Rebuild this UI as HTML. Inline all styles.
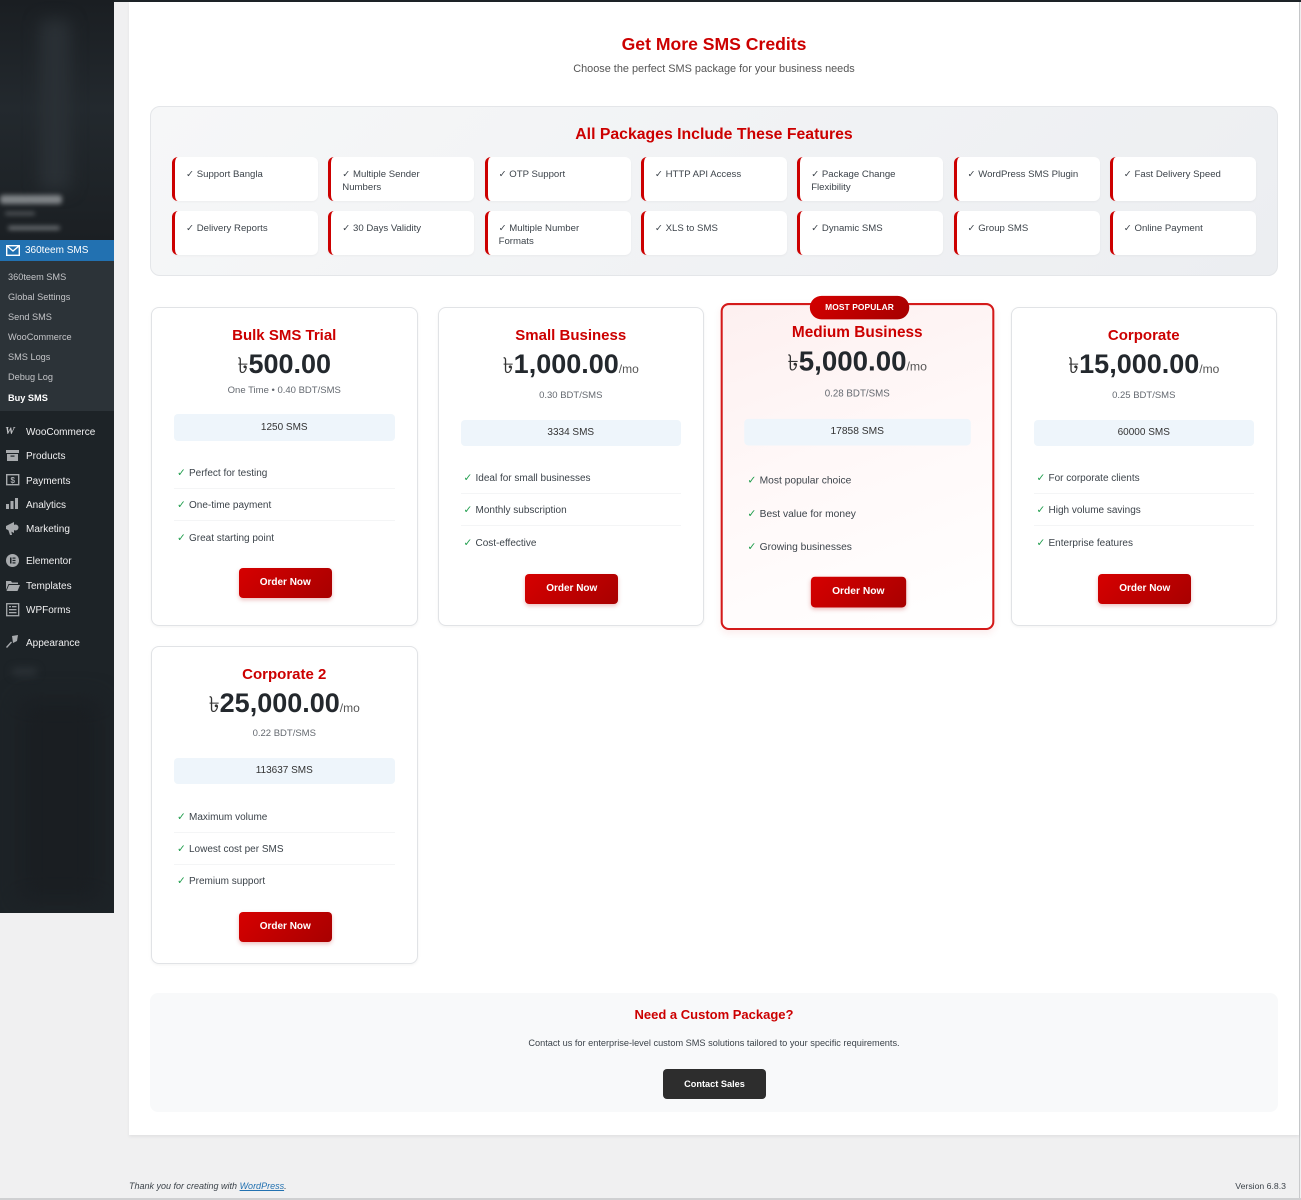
<!DOCTYPE html>
<html><head><meta charset="utf-8">
<style>
*{margin:0;padding:0;box-sizing:border-box}
html,body{width:1301px;height:1200px;overflow:hidden}
body{position:relative;background:#f0f0f1;font-family:"Liberation Sans",Arial,sans-serif;color:#333}
.a{position:absolute}
#side{left:0;top:0;width:114px;height:913px;background:#1d2327;overflow:hidden}
#sideimg{left:0;top:0;width:114px;height:240px;background:linear-gradient(180deg,#1a1e22 0%,#23292e 45%,#1e2327 80%,#1b1f23 100%)}
.blob{position:absolute;background:#cfd3d6;filter:blur(2.5px);border-radius:3px}
#active{left:0;top:240px;width:114px;height:21px;background:#2271b1;color:#fff;font-size:10px;line-height:21px;padding-left:25px}
#arrow{left:108px;top:244px;width:0;height:0;border-top:6px solid transparent;border-bottom:6px solid transparent;border-right:6px solid #f0f0f1}
#sub{left:0;top:261px;width:114px;height:150px;background:#2c3338}
.si{position:absolute;left:8px;font-size:9.2px;line-height:12px;color:#c3c4c7;white-space:nowrap}
.mi{position:absolute;left:26px;font-size:10px;line-height:13px;color:#f0f0f1;white-space:nowrap}
#content{left:129px;top:2px;width:1170px;height:1133px;background:#fff;box-shadow:0 2px 3px rgba(0,0,0,0.06)}
#rline{left:1299px;top:2px;width:1px;height:1198px;background:#c9cacc}
.center{left:129px;width:1170px;text-align:center;white-space:nowrap}
#fbox{left:150px;top:106px;width:1128px;height:170px;border-radius:10px;background:linear-gradient(135deg,#f6f7f8,#eceef1);border:1px solid #e4e6e9}
.fi{position:absolute;width:146px;height:44px;background:#fff;border-left:3px solid #cc0000;border-radius:6px;box-shadow:0 1px 2px rgba(0,0,0,0.04);font-size:9.6px;line-height:13px;color:#3c434a;padding:10.5px 0 0 11px;white-space:nowrap}
.card{position:absolute;width:266.5px;height:319px;background:#fff;border:1px solid #e1e3e6;border-radius:8px;box-shadow:0 1px 3px rgba(0,0,0,0.05)}
.card>div{position:absolute}
.t{left:0;right:0;top:18px;text-align:center;font-weight:bold;font-size:15px;line-height:20px;color:#cc0000;white-space:nowrap}
.p{left:0;right:0;top:40px;text-align:center;font-weight:bold;font-size:27px;line-height:32px;color:#23282d;white-space:nowrap}
.cur{font-weight:normal;font-size:22px;font-family:"DejaVu Sans","Liberation Sans",sans-serif;color:#333}
.mo{font-weight:normal;font-size:12px;color:#555}
.r{left:0;right:0;top:80.5px;text-align:center;font-size:9.5px;line-height:13px;color:#646970;white-space:nowrap}
.box{left:22px;right:22px;top:112px;height:26px;line-height:26px;text-align:center;background:#eef5fb;border-radius:4px;font-size:10px;color:#333}
.li{left:25px;font-size:10px;line-height:14px;color:#3c434a;white-space:nowrap}
.li i{font-style:normal;color:#1f9d4c;display:inline-block;width:12px;font-family:"DejaVu Sans",sans-serif;font-size:10.5px;font-weight:bold}
.sep{left:22px;right:22px;height:1px;background:#f4f5f6}
.btn{width:93px;height:30px;left:86.75px;top:266px;border-radius:4px;background:linear-gradient(135deg,#d60000,#a80000);color:#fff;font-weight:bold;font-size:10px;line-height:30px;text-align:center;box-shadow:0 2px 4px rgba(180,0,0,0.25)}
#feat{transform:scale(1.025);transform-origin:50% 50%;border:2px solid #d41a1a;background:linear-gradient(160deg,#fdf0f0 0%,#fff8f8 45%,#ffffff 100%);box-shadow:0 3px 8px rgba(200,0,0,0.08)}
#badge{left:85px;top:-9px;width:97px;height:23px;border-radius:12px;background:linear-gradient(135deg,#d40000,#a50000);color:#fff;font-weight:bold;font-size:8.2px;line-height:23px;text-align:center;letter-spacing:0.1px}
#cbox{left:150px;top:993px;width:1128px;height:119px;background:#f8f9fa;border-radius:8px}
</style></head>
<body>
<div class="a" style="left:0;top:0;width:1301px;height:2px;background:#1d2327"></div>
<div id="rline" class="a"></div>
<div id="content" class="a"></div>

<!-- Sidebar -->
<div id="side" class="a">
  <div id="sideimg" class="a">
    <div class="blob" style="left:40px;top:20px;width:30px;height:170px;background:#2a3035;filter:blur(8px)"></div>
    <div class="blob" style="left:0;top:195px;width:62px;height:9px;opacity:0.55"></div>
    <div class="blob" style="left:5px;top:212px;width:30px;height:3px;opacity:0.35"></div>
    <div class="blob" style="left:8px;top:226px;width:52px;height:4px;opacity:0.45"></div>
  </div>
  <div id="active" class="a">360teem SMS</div>
  <svg class="a" style="left:6px;top:245px" width="14" height="11" viewBox="0 0 14 11"><rect x="0.7" y="0.7" width="12.6" height="9.6" fill="none" stroke="#fff" stroke-width="1.4"/><path d="M0.7 0.7 L7 6 L13.3 0.7" fill="none" stroke="#fff" stroke-width="1.4"/></svg>
  <div id="sub" class="a"></div>
  <div class="si" style="top:271px">360teem SMS</div>
  <div class="si" style="top:291px">Global Settings</div>
  <div class="si" style="top:311px">Send SMS</div>
  <div class="si" style="top:331px">WooCommerce</div>
  <div class="si" style="top:351px">SMS Logs</div>
  <div class="si" style="top:371px">Debug Log</div>
  <div class="si" style="top:392px;color:#fff;font-weight:bold">Buy SMS</div>

  <div class="a" style="left:5px;top:425px;font-weight:900;font-style:italic;font-size:11px;color:#c3c4c7;font-family:'Liberation Serif',serif">W</div>
  <div class="mi" style="top:425.5px">WooCommerce</div>
  <svg class="a" style="left:6px;top:450px" width="14" height="12"><rect x="0" y="0" width="13" height="3" fill="#a7aaad"/><rect x="1" y="4" width="11" height="7" fill="#a7aaad"/><rect x="4.5" y="5.5" width="4" height="1.2" fill="#1d2327"/></svg>
  <div class="mi" style="top:449.5px">Products</div>
  <svg class="a" style="left:6px;top:474px" width="14" height="12"><rect x="0.7" y="0.7" width="12" height="10" fill="none" stroke="#a7aaad" stroke-width="1.4"/><text x="6.7" y="9" font-size="8" font-weight="bold" fill="#a7aaad" text-anchor="middle" font-family="Liberation Sans">$</text></svg>
  <div class="mi" style="top:474.5px">Payments</div>
  <svg class="a" style="left:6px;top:498px" width="14" height="12"><rect x="0" y="6" width="3" height="5" fill="#a7aaad"/><rect x="4.5" y="3" width="3" height="8" fill="#a7aaad"/><rect x="9" y="0" width="3" height="11" fill="#a7aaad"/></svg>
  <div class="mi" style="top:498.5px">Analytics</div>
  <svg class="a" style="left:5px;top:521px" width="15" height="15"><path d="M1 5 L9 1 L9 12 L1 8 Z" fill="#a7aaad"/><circle cx="10.5" cy="6.5" r="3" fill="#a7aaad"/><path d="M3 8 L5 14 L7 14 L6 9 Z" fill="#a7aaad"/></svg>
  <div class="mi" style="top:522.5px">Marketing</div>
  <svg class="a" style="left:6px;top:554px" width="14" height="14"><circle cx="6.5" cy="6.5" r="6.5" fill="#a7aaad"/><rect x="4" y="3.5" width="1.5" height="6" fill="#1d2327"/><rect x="6.5" y="3.5" width="3" height="1.2" fill="#1d2327"/><rect x="6.5" y="5.9" width="3" height="1.2" fill="#1d2327"/><rect x="6.5" y="8.3" width="3" height="1.2" fill="#1d2327"/></svg>
  <div class="mi" style="top:554.5px">Elementor</div>
  <svg class="a" style="left:6px;top:580px" width="14" height="12"><path d="M0 1 L5 1 L6 2.5 L12 2.5 L12 4 L2.5 4 L0 10 Z" fill="#a7aaad"/><path d="M3 5 L14 5 L11.5 11 L0.5 11 Z" fill="#a7aaad"/></svg>
  <div class="mi" style="top:579.5px">Templates</div>
  <svg class="a" style="left:6px;top:603px" width="14" height="14"><rect x="0.7" y="0.7" width="12" height="12" fill="none" stroke="#a7aaad" stroke-width="1.3"/><rect x="3" y="3" width="2" height="1.3" fill="#a7aaad"/><rect x="6" y="3" width="4.5" height="1.3" fill="#a7aaad"/><rect x="3" y="6" width="7.5" height="1.3" fill="#a7aaad"/><rect x="3" y="9" width="7.5" height="1.3" fill="#a7aaad"/></svg>
  <div class="mi" style="top:603.5px">WPForms</div>
  <svg class="a" style="left:5px;top:635px" width="15" height="15"><path d="M7 1 L13 0 L12 6 L8 8 Z" fill="#a7aaad"/><path d="M7 7.5 L2 13 L1 12 L6 6.5 Z" fill="#a7aaad"/></svg>
  <div class="mi" style="top:636.5px">Appearance</div>
  <div class="blob" style="left:12px;top:668px;width:25px;height:8px;background:#2c3237;filter:blur(4px)"></div>
  <div class="blob" style="left:20px;top:700px;width:80px;height:200px;background:#1a1e22;filter:blur(12px)"></div>
</div>

<!-- Header -->
<div class="a center" style="top:33px;font-weight:bold;font-size:17.6px;line-height:22px;color:#cc0000">Get More SMS Credits</div>
<div class="a center" style="top:62px;font-size:10.9px;line-height:14px;color:#555">Choose the perfect SMS package for your business needs</div>

<!-- Features -->
<div id="fbox" class="a"></div>
<div class="a center" style="top:125px;font-weight:bold;font-size:15.8px;line-height:20px;color:#cc0000">All Packages Include These Features</div>

<div class="fi" style="left:172px;top:157px">✓ Support Bangla</div>
<div class="fi" style="left:328.3px;top:157px">✓ Multiple Sender<br>Numbers</div>
<div class="fi" style="left:484.6px;top:157px">✓ OTP Support</div>
<div class="fi" style="left:640.9px;top:157px">✓ HTTP API Access</div>
<div class="fi" style="left:797.2px;top:157px">✓ Package Change<br>Flexibility</div>
<div class="fi" style="left:953.5px;top:157px">✓ WordPress SMS Plugin</div>
<div class="fi" style="left:1109.8px;top:157px">✓ Fast Delivery Speed</div>

<div class="fi" style="left:172px;top:211px">✓ Delivery Reports</div>
<div class="fi" style="left:328.3px;top:211px">✓ 30 Days Validity</div>
<div class="fi" style="left:484.6px;top:211px">✓ Multiple Number<br>Formats</div>
<div class="fi" style="left:640.9px;top:211px">✓ XLS to SMS</div>
<div class="fi" style="left:797.2px;top:211px">✓ Dynamic SMS</div>
<div class="fi" style="left:953.5px;top:211px">✓ Group SMS</div>
<div class="fi" style="left:1109.8px;top:211px">✓ Online Payment</div>

<!-- Card 1 -->
<div class="card" style="left:151px;top:307px">
  <div class="t">Bulk SMS Trial</div>
  <div class="p"><span class="cur">৳</span>500.00</div>
  <div class="r" style="top:75.5px">One Time • 0.40 BDT/SMS</div>
  <div class="box" style="top:106px;height:27px;line-height:27px">1250 SMS</div>
  <div class="li" style="top:158px"><i>✓</i>Perfect for testing</div>
  <div class="sep" style="top:180px"></div>
  <div class="li" style="top:190px"><i>✓</i>One-time payment</div>
  <div class="sep" style="top:212px"></div>
  <div class="li" style="top:223px"><i>✓</i>Great starting point</div>
  <div class="btn" style="top:260px">Order Now</div>
</div>

<!-- Card 2 -->
<div class="card" style="left:437.5px;top:307px">
  <div class="t">Small Business</div>
  <div class="p"><span class="cur">৳</span>1,000.00<span class="mo">/mo</span></div>
  <div class="r">0.30 BDT/SMS</div>
  <div class="box">3334 SMS</div>
  <div class="li" style="top:163px"><i>✓</i>Ideal for small businesses</div>
  <div class="sep" style="top:185px"></div>
  <div class="li" style="top:195px"><i>✓</i>Monthly subscription</div>
  <div class="sep" style="top:217px"></div>
  <div class="li" style="top:228px"><i>✓</i>Cost-effective</div>
  <div class="btn">Order Now</div>
</div>

<!-- Card 3 featured -->
<div class="card" id="feat" style="left:724px;top:307px">
  <div id="badge">MOST POPULAR</div>
  <div class="t" style="top:17px">Medium Business</div>
  <div class="p" style="top:39px"><span class="cur">৳</span>5,000.00<span class="mo">/mo</span></div>
  <div class="r" style="top:80px">0.28 BDT/SMS</div>
  <div class="box" style="top:111px;left:21px;right:21px;background:#eef5fb">17858 SMS</div>
  <div class="li" style="top:164px;left:24px"><i>✓</i>Most popular choice</div>
  <div class="li" style="top:196.5px;left:24px"><i>✓</i>Best value for money</div>
  <div class="li" style="top:229px;left:24px"><i>✓</i>Growing businesses</div>
  <div class="btn" style="top:265px;left:85.75px">Order Now</div>
</div>

<!-- Card 4 -->
<div class="card" style="left:1010.5px;top:307px">
  <div class="t">Corporate</div>
  <div class="p"><span class="cur">৳</span>15,000.00<span class="mo">/mo</span></div>
  <div class="r">0.25 BDT/SMS</div>
  <div class="box">60000 SMS</div>
  <div class="li" style="top:163px"><i>✓</i>For corporate clients</div>
  <div class="sep" style="top:185px"></div>
  <div class="li" style="top:195px"><i>✓</i>High volume savings</div>
  <div class="sep" style="top:217px"></div>
  <div class="li" style="top:228px"><i>✓</i>Enterprise features</div>
  <div class="btn">Order Now</div>
</div>

<!-- Card 5 -->
<div class="card" style="left:151px;top:646px;height:318px">
  <div class="t">Corporate 2</div>
  <div class="p"><span class="cur">৳</span>25,000.00<span class="mo">/mo</span></div>
  <div class="r" style="top:79.5px">0.22 BDT/SMS</div>
  <div class="box" style="top:111px">113637 SMS</div>
  <div class="li" style="top:163px"><i>✓</i>Maximum volume</div>
  <div class="sep" style="top:185px"></div>
  <div class="li" style="top:195px"><i>✓</i>Lowest cost per SMS</div>
  <div class="sep" style="top:217px"></div>
  <div class="li" style="top:227px"><i>✓</i>Premium support</div>
  <div class="btn" style="top:265px">Order Now</div>
</div>

<!-- Custom package -->
<div id="cbox" class="a"></div>
<div class="a center" style="top:1007px;font-weight:bold;font-size:13px;line-height:16px;color:#cc0000">Need a Custom Package?</div>
<div class="a center" style="top:1037px;font-size:9.2px;line-height:12px;color:#3c434a">Contact us for enterprise-level custom SMS solutions tailored to your specific requirements.</div>
<div class="a" style="left:663px;top:1069px;width:103px;height:30px;border-radius:4px;background:#2d2d2d;color:#fff;font-weight:bold;font-size:9.2px;line-height:30px;text-align:center">Contact Sales</div>

<!-- Footer -->
<div class="a" style="left:129px;top:1180px;font-size:9px;line-height:12px;font-style:italic;color:#3c434a;white-space:nowrap">Thank you for creating with <span style="color:#2271b1;text-decoration:underline">WordPress</span>.</div>
<div class="a" style="left:1200px;width:86px;top:1180px;font-size:8.7px;line-height:12px;color:#3c434a;text-align:right;white-space:nowrap">Version 6.8.3</div>
<div class="a" style="left:0;top:1198px;width:1301px;height:2px;background:#cfd0d2"></div>
</body></html>
